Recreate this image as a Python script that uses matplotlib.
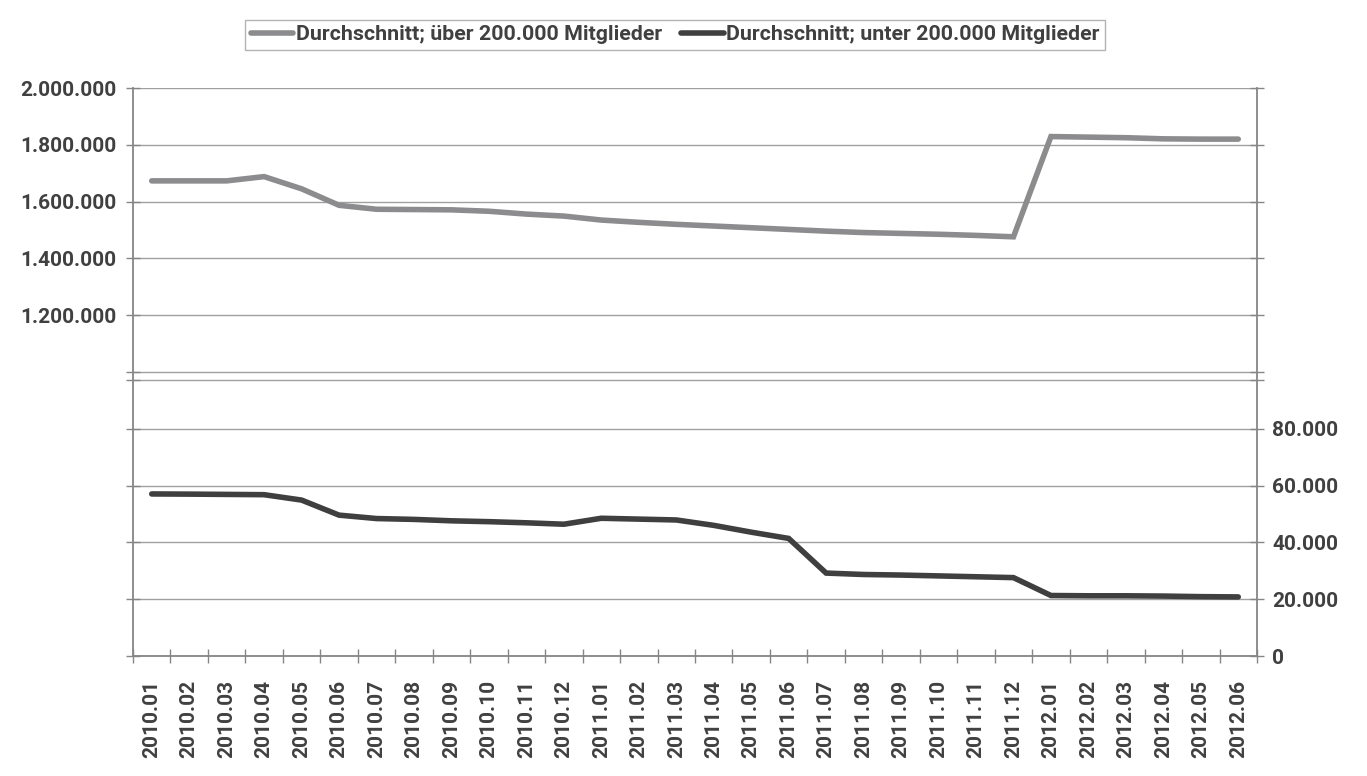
import matplotlib
matplotlib.use("Agg")
import matplotlib.pyplot as plt
from matplotlib.ticker import FixedLocator, FuncFormatter

months = ["2010.01", "2010.02", "2010.03", "2010.04", "2010.05", "2010.06",
          "2010.07", "2010.08", "2010.09", "2010.10", "2010.11", "2010.12",
          "2011.01", "2011.02", "2011.03", "2011.04", "2011.05", "2011.06",
          "2011.07", "2011.08", "2011.09", "2011.10", "2011.11", "2011.12",
          "2012.01", "2012.02", "2012.03", "2012.04", "2012.05", "2012.06"]

ueber_200k = [1673000, 1673000, 1673000, 1688000, 1645000, 1587000,
              1573000, 1572000, 1571000, 1566000, 1556000, 1549000,
              1535000, 1527000, 1520000, 1514000, 1508000, 1502000,
              1496000, 1491000, 1488000, 1485000, 1481000, 1476000,
              1829000, 1827000, 1825000, 1821000, 1820000, 1820000]

unter_200k = [57060, 57000, 56900, 56800, 54900, 49600,
              48400, 48100, 47600, 47300, 46900, 46400,
              48500, 48200, 47900, 46000, 43600, 41400,
              29200, 28700, 28500, 28200, 27900, 27600,
              21300, 21200, 21200, 21100, 20900, 20800]

label_top = "Durchschnitt; über 200.000 Mitglieder"
label_bottom = "Durchschnitt; unter 200.000 Mitglieder"

left_ticks = list(range(0, 2000001, 200000))
left_labels_from = 1200000
right_ticks = list(range(0, 200001, 20000))
right_labels_upto = 80000
break_value_right = 97200

plt.rcParams['font.family'] = ['Roboto', 'DejaVu Sans']
plt.rcParams['font.weight'] = 'bold'

TXT = '#404040'
GRID = '#a0a0a0'
SPINE = '#868686'
C_TOP = '#8c8c8e'
C_BOT = '#3f3f3f'

fig = plt.figure(figsize=(13.67, 7.76), dpi=100)
ax = fig.add_axes([133/1367, 1 - 656/776, (1257-133)/1367, (656-88)/776])
ax2 = ax.twinx()

x = list(range(len(months)))
l1, = ax.plot(x, ueber_200k, color=C_TOP, lw=4.0, solid_capstyle='round',
              solid_joinstyle='miter', zorder=3)
l2, = ax2.plot(x, unter_200k, color=C_BOT, lw=4.0, solid_capstyle='round',
               solid_joinstyle='miter', zorder=3)

ax.set_xlim(-0.5, len(months) - 0.5)
ax.set_ylim(0, 2000000)
ax2.set_ylim(0, 200000)

# left axis
lt = left_ticks + [break_value_right * 10]
ax.yaxis.set_major_locator(FixedLocator(lt))
ax.yaxis.set_major_formatter(FuncFormatter(
    lambda v, p: (f"{int(v):,}".replace(",", ".") if v >= left_labels_from and int(v) % 200000 == 0 else "")))
ax.grid(axis='y', color=GRID, lw=1.0)
ax.set_axisbelow(True)

# right axis
rt = right_ticks + [break_value_right]
ax2.yaxis.set_major_locator(FixedLocator(rt))
ax2.yaxis.set_major_formatter(FuncFormatter(
    lambda v, p: (f"{int(v):,}".replace(",", ".") if v <= right_labels_upto and int(v) % 20000 == 0 else "")))

# x axis
ax.set_xticks(x)
ax.set_xticklabels(months, rotation=90)
ax.set_xticks([i - 0.5 for i in range(len(months) + 1)], minor=True)
ax.tick_params(axis='x', which='major', length=0, pad=17, labelsize=15, labelcolor=TXT)
ax.tick_params(axis='x', which='minor', direction='inout', length=10, color=SPINE, width=1)
ax.tick_params(axis='y', which='major', direction='inout', length=10, color=SPINE, width=1,
               labelsize=15, labelcolor=TXT, pad=7)
ax2.tick_params(axis='y', which='major', direction='inout', length=10, color=SPINE, width=1,
                labelsize=15, labelcolor=TXT, pad=6)

for a in (ax, ax2):
    a.spines['top'].set_visible(False)
    for s in ('left', 'right', 'bottom'):
        a.spines[s].set_color(SPINE)
        a.spines[s].set_linewidth(1.3)
ax2.spines['left'].set_visible(False)
ax2.spines['bottom'].set_visible(False)
ax.spines['right'].set_visible(False)

leg = fig.legend([l1, l2], [label_top, label_bottom], loc='center',
                 bbox_to_anchor=(675/1367, 1 - 35/776), ncol=2, frameon=True,
                 fancybox=False, edgecolor='#a0a0a0', fontsize=15.4,
                 handlelength=2.0, handletextpad=0.1, columnspacing=0.9,
                 borderpad=0.25, labelcolor=TXT)
leg.get_frame().set_linewidth(1.0)

fig.savefig("out.png", dpi=100)
